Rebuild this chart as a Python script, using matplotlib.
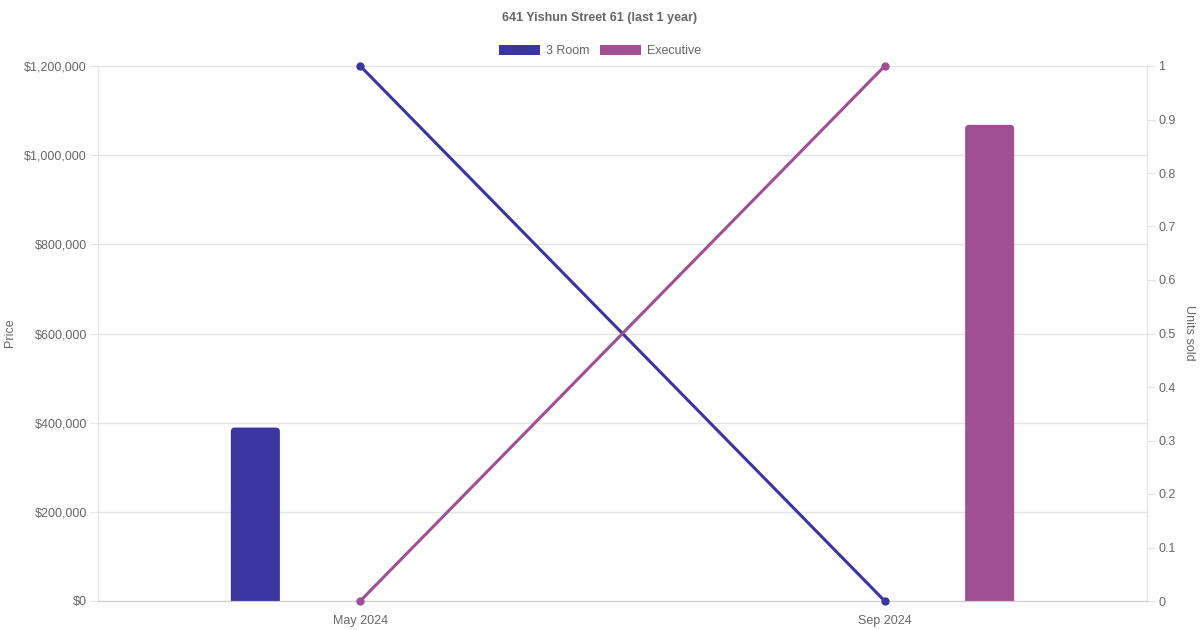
import numpy as np
import matplotlib
matplotlib.use("Agg")
import matplotlib.pyplot as plt
from matplotlib.patches import FancyBboxPatch
from matplotlib.ticker import FuncFormatter

plt.rcParams['font.family'] = ['Liberation Sans', 'DejaVu Sans']

months = ['May 2024', 'Sep 2024']
series = ['3 Room', 'Executive']
colors = ['#3a35a0', '#9f5095']
prices = [[389000, 0], [0, 1068000]]
units = [[1, 0], [0, 1]]

grey = '#666666'
gridc = '#e4e4e4'

fig = plt.figure(figsize=(12, 6.3), dpi=100)
ax = fig.add_axes([98/1200, 29/630, 1049/1200, 535/630])
ax2 = ax.twinx()

x = np.arange(len(months))
offs = [-0.2, 0.2]
bw = 49/524
px_x = 2.0/1049
px_y = 1.2e6/535
for i, s in enumerate(series):
    for j, v in enumerate(prices[i]):
        if v <= 0:
            continue
        left = x[j] + offs[i] - bw/2
        r = 4*px_x
        p = FancyBboxPatch((left + r, -10*px_y + r*px_y/px_x), bw - 2*r, v + 10*px_y - 2*r*px_y/px_x,
                           boxstyle="round,pad=%f,rounding_size=%f" % (r, r),
                           mutation_aspect=px_y/px_x, fc=colors[i], ec='none', zorder=2)
        ax.add_patch(p)

for i, s in enumerate(series):
    ax2.plot(x, units[i], color=colors[i], lw=2.2, marker='o', ms=5, zorder=3, clip_on=False)

ax.set_xlim(-0.5, 1.5)
ax.set_ylim(0, 1.2e6)
ax2.set_ylim(0, 1)
ax.set_yticks(np.arange(0, 1.2e6 + 1, 2e5))
ax.yaxis.set_major_formatter(FuncFormatter(lambda v, p: '${:,.0f}'.format(v)))
ax2.set_yticks(np.arange(0, 1.01, 0.1))
ax2.yaxis.set_major_formatter(FuncFormatter(lambda v, p: '{:g}'.format(round(v, 1))))
ax.set_xticks(x)
ax.set_xticklabels(months)

ax.grid(axis='y', color=gridc, lw=1)
ax.set_axisbelow(True)
for a in (ax, ax2):
    a.spines['top'].set_visible(False)
    a.spines['left'].set_color(gridc)
    a.spines['right'].set_color(gridc)
    a.spines['bottom'].set_color('#cfcfcf')
ax.tick_params(axis='y', colors=gridc, labelcolor=grey, labelsize=9, length=6, pad=2)
ax2.tick_params(axis='y', colors=gridc, labelcolor=grey, labelsize=9, length=6, pad=2)
ax.tick_params(axis='x', length=0, labelcolor=grey, labelsize=9, pad=10)

fig.text(10/1200, 1 - 333/630, 'Price', rotation=90, ha='center', va='center', color=grey, fontsize=9)
fig.text(1189/1200, 1 - 333/630, 'Units sold', rotation=270, ha='center', va='center', color=grey, fontsize=9)

fig.text(0.5, 1 - 18/630, '641 Yishun Street 61 (last 1 year)', ha='center', va='center',
         color=grey, fontsize=9, fontweight='bold')

handles = [plt.Rectangle((0, 0), 1, 1, fc=c, ec='none') for c in colors]
fig.legend(handles, series, loc='center', bbox_to_anchor=(0.5, 1 - 51/630), ncol=2,
           frameon=False, fontsize=9, labelcolor=grey, handlelength=3.3, handleheight=0.9,
           handletextpad=0.5, columnspacing=0.8)

fig.savefig('out.png', dpi=100)
